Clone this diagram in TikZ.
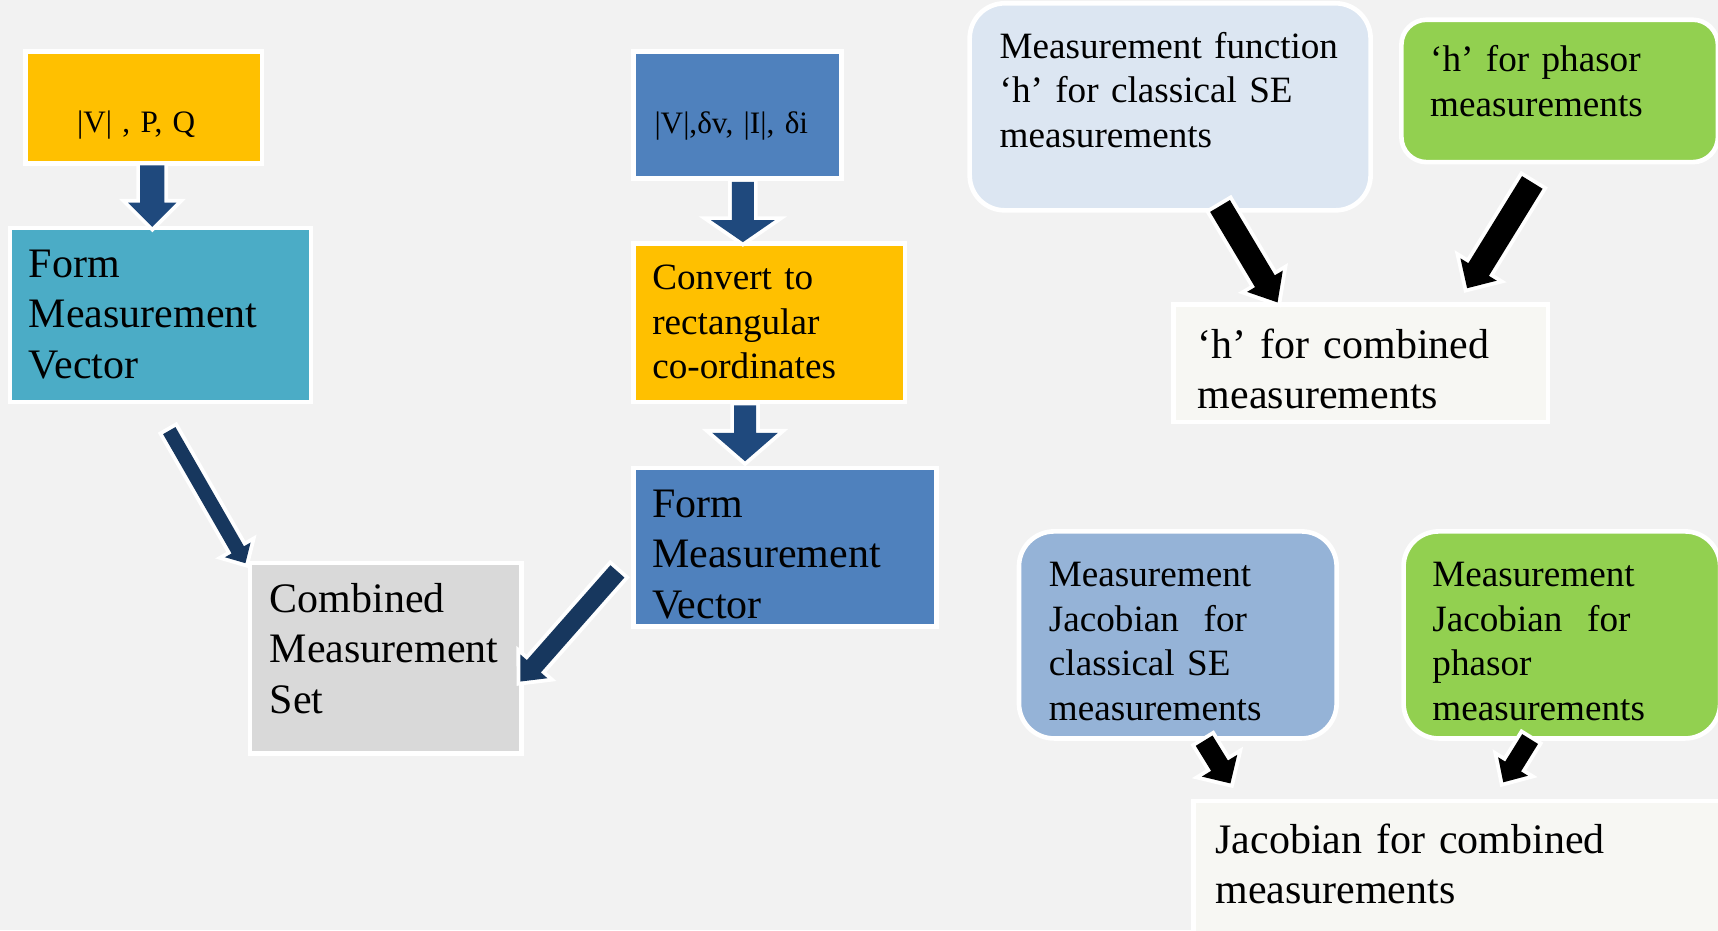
\documentclass[tikz,border=0pt]{standalone}
\usepackage{fontspec}
\setmainfont{Liberation Serif}
\usetikzlibrary{calc}

\definecolor{bgc}{HTML}{F2F2F2}
\definecolor{yel}{HTML}{FFC000}
\definecolor{tealc}{HTML}{4BACC6}
\definecolor{bluc}{HTML}{4F81BD}
\definecolor{gryc}{HTML}{D9D9D9}
\definecolor{lbluc}{HTML}{DCE6F2}
\definecolor{mbluc}{HTML}{95B3D7}
\definecolor{grnc}{HTML}{92D050}
\definecolor{offw}{HTML}{F7F7F3}
\definecolor{navy}{HTML}{1F497D}
\definecolor{navyd}{HTML}{17375E}

\tikzset{
  box/.style={draw=white, line width=2.4pt, inner sep=0pt, outer sep=0pt, anchor=north west},
  rbox/.style={box, rounded corners=0.64cm},
  txt/.style={anchor=base west, inner sep=0pt, text width=9cm, align=left},
  big/.style={txt, font=\fontsize{21.8}{26.2}\selectfont},
  mid/.style={txt, font=\fontsize{19.3}{23.3}\selectfont},
  sml/.style={txt, font=\fontsize{16.2}{19.5}\selectfont},
  barrow/.style={fill=#1, preaction={draw=white, line width=4pt, line join=miter}},
}

% block arrow: #1 colour, #2 tail, #3 tip, #4 half shaft, #5 half head, #6 head length
\newcommand\blockarrow[6]{%
  \coordinate (ba-base) at ($(#3)!#6!(#2)$);
  \path[barrow=#1]
    ($(#2)!#4!90:(#3)$) -- ($(ba-base)!#4!90:(#3)$) -- ($(ba-base)!#5!90:(#3)$)
    -- (#3)
    -- ($(ba-base)!#5!-90:(#3)$) -- ($(ba-base)!#4!-90:(#3)$) -- ($(#2)!#4!-90:(#3)$)
    -- cycle;
}

\begin{document}
\begin{tikzpicture}[x=0.02cm, y=-0.02cm]
\useasboundingbox (0,0) rectangle (1568,849);
\clip (0,0) rectangle (1568,849);
\fill[bgc] (0,0) rectangle (1568,849);

% left chain: classical measurements
\node[box, fill=yel, minimum width=4.32cm, minimum height=2.04cm] (vpq) at (23,47) {};
\node[sml] (vpq-t) at (70,121) {|V| , P, Q};
\node[box, fill=tealc, minimum width=5.50cm, minimum height=3.18cm] (fmv1) at (9,208) {};
\node[big] (fmv1-t) at (26,253) {Form\\Measurement\\Vector};

% middle chain: phasor measurements
\node[box, fill=bluc, minimum width=3.80cm, minimum height=2.32cm] (vdi) at (578,47) {};
\node[sml] (vdi-t) at (597,122) {|V|,δv, |I|, δi};
\node[box, fill=yel, minimum width=4.96cm, minimum height=2.90cm] (conv) at (578,222) {};
\node[mid] (conv-t) at (595,264) {Convert to\\rectangular\\co-ordinates};
\node[box, fill=bluc, minimum width=5.54cm, minimum height=2.90cm] (fmv2) at (578,427) {};
\node[big] (fmv2-t) at (595,472) {Form\\Measurement\\Vector};

% combined set
\node[box, fill=gryc, minimum width=4.96cm, minimum height=3.48cm] (cms) at (228,514) {};
\node[big] (cms-t) at (246,559) {Combined\\Measurement\\Set};

% measurement functions
\node[rbox, fill=lbluc, minimum width=7.32cm, minimum height=3.78cm] (hcl) at (885,3) {};
\node[mid] (hcl-t) at (912,53) {Measurement function\\‘h’ for classical SE\\measurements};
\node[box, rounded corners=0.46cm, fill=grnc, minimum width=5.78cm, minimum height=2.60cm] (hph) at (1279,18) {};
\node[mid] (hph-t) at (1305,65) {‘h’ for phasor\\measurements};
\node[box, fill=offw, minimum width=6.84cm, minimum height=2.14cm] (hcomb) at (1071,278) {};
\node[big] (hcomb-t) at (1093,327) {‘h’ for combined\\measurements};

% Jacobians
\node[rbox, fill=mbluc, minimum width=5.80cm, minimum height=3.78cm] (jcl) at (930,485) {};
\node[mid] (jcl-t) at (957,535) {Measurement\\Jacobian\ \ for\\classical SE\\measurements};
\node[rbox, fill=grnc, minimum width=5.78cm, minimum height=3.78cm] (jph) at (1281,485) {};
\node[mid] (jph-t) at (1307,535) {Measurement\\Jacobian\ \ for\\phasor\\measurements};
\node[box, fill=offw, minimum width=12cm, minimum height=4cm] (jcomb) at (1089,731) {};
\node[big] (jcomb-t) at (1109,779) {Jacobian for combined\\measurements};

% arrow end points
\coordinate (a1s) at (139,151);   \coordinate (a1e) at (139,207);
\coordinate (a2s) at (678,166);   \coordinate (a2e) at (678,221);
\coordinate (a3s) at (680,370);   \coordinate (a3e) at (680,421);
\coordinate (a4s) at (154.5,393); \coordinate (a4e) at (224,514);
\coordinate (a5s) at (563.5,521.5); \coordinate (a5e) at (475,622);
\coordinate (h1s) at (1113.5,188); \coordinate (h1e) at (1166,276);
\coordinate (h2s) at (1398.5,166.5); \coordinate (h2e) at (1339,263);
\coordinate (j1s) at (1099,676);  \coordinate (j1e) at (1123,715);
\coordinate (j2s) at (1396.5,674.5); \coordinate (j2e) at (1372,714);

% arrows
\blockarrow{navy}{a1s}{a1e}{0.22cm}{0.44cm}{0.44cm}
\blockarrow{navy}{a2s}{a2e}{0.20cm}{0.58cm}{0.40cm}
\blockarrow{navy}{a3s}{a3e}{0.20cm}{0.60cm}{0.52cm}
\blockarrow{navyd}{a4s}{a4e}{0.13cm}{0.27cm}{0.28cm}
\blockarrow{navyd}{a5s}{a5e}{0.17cm}{0.33cm}{0.37cm}
\blockarrow{black}{h1s}{h1e}{0.21cm}{0.38cm}{0.45cm}
\blockarrow{black}{h2s}{h2e}{0.22cm}{0.39cm}{0.40cm}
\blockarrow{black}{j1s}{j1e}{0.18cm}{0.38cm}{0.38cm}
\blockarrow{black}{j2s}{j2e}{0.17cm}{0.32cm}{0.34cm}
\end{tikzpicture}
\end{document}
